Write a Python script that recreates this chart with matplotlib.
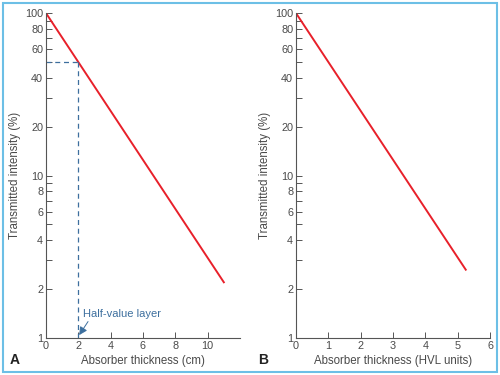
import matplotlib.pyplot as plt
from matplotlib.patches import Rectangle
from matplotlib.ticker import FixedLocator, NullFormatter

# panel A: thickness in cm, panel B: thickness in HVL units
thickness_cm = [0, 11]
intensity_cm = [100, 2.2]
thickness_hvl = [0, 5.25]
intensity_hvl = [100, 2.63]

hvl_cm = 2
hvl_level = 50

y_major = [1, 2, 4, 6, 8, 10, 20, 40, 60, 80, 100]
y_minor = [3, 5, 7, 9, 30, 50, 70, 90]
x_ticks_a = [0, 2, 4, 6, 8, 10]
x_ticks_b = [0, 1, 2, 3, 4, 5, 6]

plt.rcParams['font.family'] = ['Liberation Sans', 'DejaVu Sans']
plt.rcParams['font.size'] = 7.5
text_col = '#4a4a4a'
red = '#e8202a'
blue = '#3d6f9e'

fig = plt.figure(figsize=(5, 3.75), dpi=100)
ax_a = fig.add_axes([0.092, 0.099, 0.388, 0.866])
ax_b = fig.add_axes([0.592, 0.099, 0.388, 0.866])


def style(ax, xmax, xticks, xlabel):
    ax.set_yscale('log')
    ax.set_ylim(1, 100)
    ax.set_xlim(0, xmax)
    ax.yaxis.set_major_locator(FixedLocator(y_major))
    ax.yaxis.set_minor_locator(FixedLocator(y_minor))
    ax.set_yticklabels([str(v) for v in y_major])
    ax.yaxis.set_minor_formatter(NullFormatter())
    ax.set_xticks(xticks)
    for s in ['top', 'right']:
        ax.spines[s].set_visible(False)
    for s in ['left', 'bottom']:
        ax.spines[s].set_color('#555555')
        ax.spines[s].set_linewidth(0.8)
    ax.tick_params(which='both', direction='in', length=4, width=0.7,
                   color='#555555', labelcolor=text_col, pad=2, labelsize=7.8)
    ax.set_xlabel(xlabel, color=text_col, fontsize=8.3, labelpad=3)
    ax.set_ylabel('Transmitted intensity (%)', color=text_col, fontsize=8.3, labelpad=3)


style(ax_a, 12, x_ticks_a, 'Absorber thickness (cm)')
style(ax_b, 6, x_ticks_b, 'Absorber thickness (HVL units)')

ax_a.plot(thickness_cm, intensity_cm, color=red, lw=1.4)
ax_b.plot(thickness_hvl, intensity_hvl, color=red, lw=1.4)

# half-value layer guide lines
ax_a.plot([0, hvl_cm], [hvl_level, hvl_level], color=blue, lw=0.9, dashes=(4, 3))
ax_a.plot([hvl_cm, hvl_cm], [hvl_level, 1], color=blue, lw=0.9, dashes=(4, 3))
ax_a.text(2.3, 1.3, 'Half-value layer', color=blue, fontsize=8, va='bottom')
ax_a.annotate('', xy=(hvl_cm + 0.05, 1.04), xytext=(2.6, 1.26),
              arrowprops=dict(arrowstyle='-|>', color=blue, lw=0.7,
                              mutation_scale=12, shrinkA=0, shrinkB=0,
                              connectionstyle='arc3,rad=0'))

fig.text(0.02, 0.028, 'A', fontsize=10, fontweight='bold', color='#222222')
fig.text(0.517, 0.028, 'B', fontsize=10, fontweight='bold', color='#222222')

fig.patches.append(Rectangle((0.006, 0.008), 0.988, 0.984, transform=fig.transFigure,
                             fill=False, edgecolor='#6cbfe6', lw=1.5))

fig.savefig('out.png', dpi=100)
